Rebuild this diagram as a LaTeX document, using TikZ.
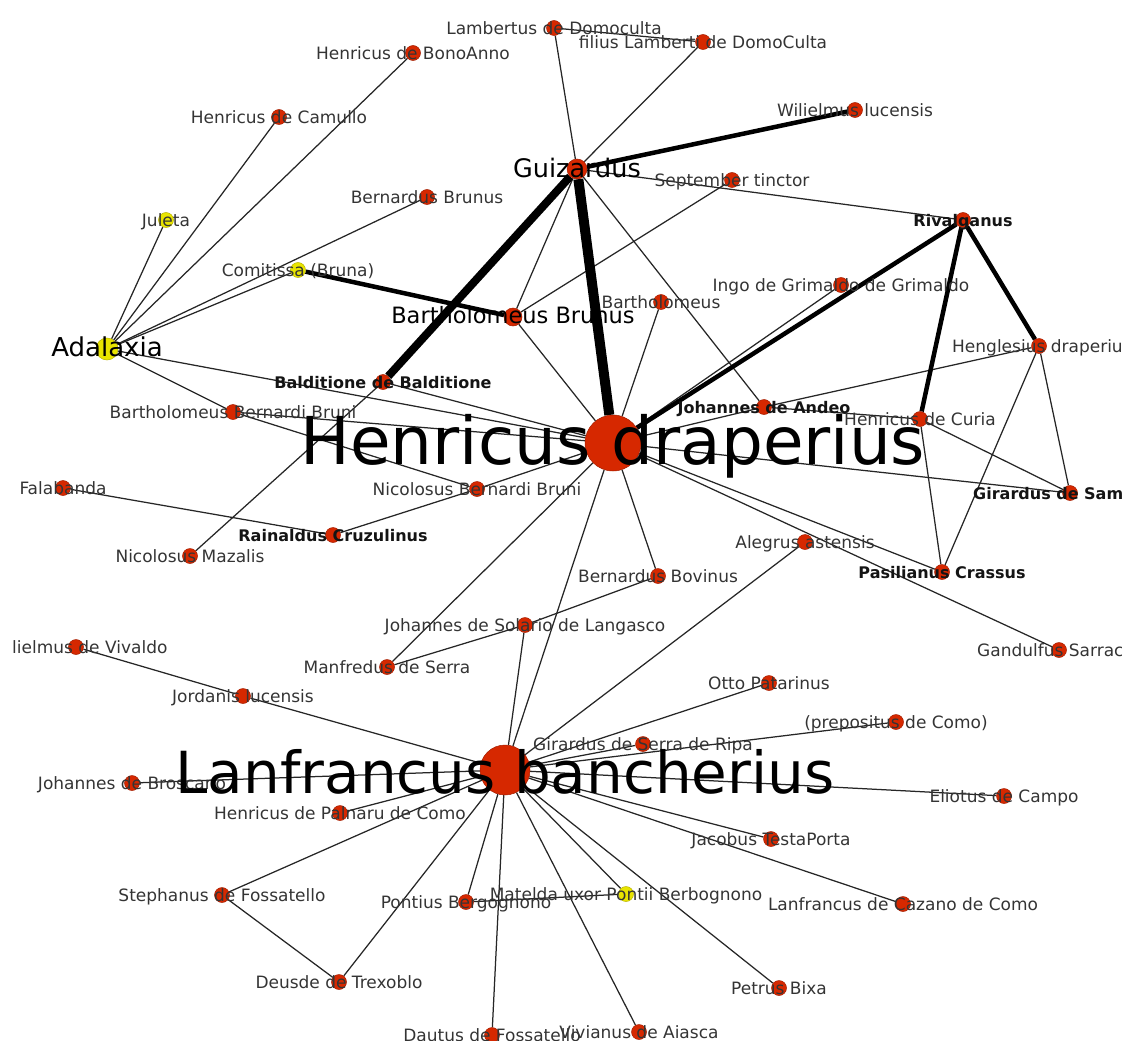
\documentclass[tikz,border=0pt]{standalone}
\usepackage{fontspec}
\setmainfont{DejaVu Sans}
\pgfdeclarelayer{background}
\pgfsetlayers{background,main}
\definecolor{nodered}{RGB}{214,40,0}
\definecolor{nodeline}{RGB}{165,30,0}
\definecolor{nodeyellow}{RGB}{232,228,0}
\definecolor{yellowline}{RGB}{185,180,0}
\definecolor{labgrey}{RGB}{52,52,52}
\definecolor{linkgrey}{RGB}{38,38,38}
\tikzset{person/.style={circle, fill=nodered, draw=nodeline, line width=.5pt, minimum size=15pt, inner sep=0pt},
  woman/.style={person, fill=nodeyellow, draw=yellowline},
  lab/.style={font=\fontsize{17}{17}\selectfont, text=labgrey, anchor=base, yshift=-6.2pt, inner sep=0pt},
  blab/.style={lab, font=\fontsize{16}{16}\selectfont\bfseries, text=black!92},
  biglab/.style={anchor=base, text=black, inner sep=0pt},
  link/.style={draw=linkgrey, line width=1.25pt},
  tie/.style={draw=black, line width=#1}}

\begin{document}
\begin{tikzpicture}[x=1pt, y=-1pt]
    \useasboundingbox (0,0) rectangle (1122,1041);
    % people
    \node [person, minimum size=56pt] (hd) at (613,443) {};
    \node [person, minimum size=50pt] (lb) at (505,770) {};
    \node [person, minimum size=20pt] (guiz) at (577,169) {};
    \node [person] (lamb) at (554,28) {};
    \node [person] (fil) at (703,42) {};
    \node [person] (bono) at (413,53) {};
    \node [person] (cam) at (279,117) {};
    \node [person] (wil) at (855,110) {};
    \node [person] (bern) at (427,197) {};
    \node [person] (sept) at (732,180) {};
    \node [person] (riv) at (963,220) {};
    \node [woman] (jul) at (166,220) {};
    \node [woman] (com) at (298,270) {};
    \node [woman, minimum size=22pt] (ada) at (107,349) {};
    \node [person, minimum size=18pt] (bbr) at (513,317) {};
    \node [person] (bart) at (661,302) {};
    \node [person] (ingo) at (841,285) {};
    \node [person] (hengl) at (1039,346) {};
    \node [person] (bald) at (383,382) {};
    \node [person] (bbb) at (233,412) {};
    \node [person] (andeo) at (764,407) {};
    \node [person] (curia) at (920,419) {};
    \node [person] (nbb) at (477,489) {};
    \node [person] (fala) at (63,488) {};
    \node [person] (gsam) at (1070,493) {};
    \node [person] (rain) at (333,535) {};
    \node [person] (maz) at (190,556) {};
    \node [person] (aleg) at (805,542) {};
    \node [person] (pas) at (942,572) {};
    \node [person] (bov) at (658,576) {};
    \node [person] (sol) at (525,625) {};
    \node [person] (manf) at (387,667) {};
    \node [person] (vival) at (76,647) {};
    \node [person] (gand) at (1059,650) {};
    \node [person] (jord) at (243,696) {};
    \node [person] (otto) at (769,683) {};
    \node [person] (prep) at (896,722) {};
    \node [person] (gsr) at (643,744) {};
    \node [person] (bros) at (132,783) {};
    \node [person] (eli) at (1004,796) {};
    \node [person] (paln) at (340,813) {};
    \node [person] (jac) at (771,839) {};
    \node [person] (steph) at (222,895) {};
    \node [person] (pont) at (466,902) {};
    \node [woman] (mat) at (626,894) {};
    \node [person] (caz) at (903,904) {};
    \node [person] (deus) at (339,982) {};
    \node [person] (petr) at (779,988) {};
    \node [person] (daut) at (492,1035) {};
    \node [person] (vivi) at (639,1032) {};

    % ties
    \begin{pgfonlayer}{background}
    \path[link] (guiz) edge (lamb) edge (fil) edge (riv) edge (bbr) edge (andeo)
        (lamb) edge (fil)
        (sept) edge (bbr)
        (hd) edge (ingo) edge (bart) edge (bbr) edge (andeo) edge (gsam) edge (pas)
            edge (gand) edge (bov) edge (lb) edge (manf) edge (nbb) edge (bbb)
            edge (ada) edge (bald)
        (andeo) edge (curia) edge (hengl)
        (hengl) edge (gsam) edge (pas)
        (curia) edge (gsam) edge (pas)
        (rain) edge (nbb) edge (fala)
        (bbb) edge (nbb) edge (ada)
        (maz) edge (bald)
        (ada) edge (jul) edge (cam) edge (bono) edge (bern) edge (com)
        (sol) edge (manf) edge (bov) edge (lb)
        (lb) edge (aleg) edge (otto) edge (prep) edge (gsr) edge (eli) edge (jac)
            edge (caz) edge (petr) edge (vivi) edge (mat) edge (daut) edge (pont)
            edge (deus) edge (steph) edge (paln) edge (bros) edge (jord)
        (jord) edge (vival)
        (pont) edge (mat)
        (steph) edge (deus);
    \path (guiz) edge [tie=10pt] (hd)
            edge [tie=8pt] (bald)
            edge [tie=4.5pt] (wil)
        (riv) edge [tie=4.5pt] (hd)
            edge [tie=4.5pt] (curia)
            edge [tie=4.5pt] (hengl)
        (com) edge [tie=4.5pt] (bbr);
    \end{pgfonlayer}

    % names
    \node [lab] (lamb-l) at (lamb) {Lambertus de Domoculta};
    \node [lab] (fil-l) at (fil) {filius Lamberti de DomoCulta};
    \node [lab] (bono-l) at (bono) {Henricus de BonoAnno};
    \node [lab] (cam-l) at (cam) {Henricus de Camullo};
    \node [lab] (wil-l) at (wil) {Wilielmus lucensis};
    \node [lab] (bern-l) at (bern) {Bernardus Brunus};
    \node [lab] (sept-l) at (sept) {September tinctor};
    \node [blab] (riv-l) at (riv) {Rivalganus};
    \node [lab] (jul-l) at (jul) {Juleta};
    \node [lab] (com-l) at (com) {Comitissa (Bruna)};
    \node [lab] (bart-l) at (bart) {Bartholomeus};
    \node [lab] (ingo-l) at (ingo) {Ingo de Grimaldo de Grimaldo};
    \node [lab, anchor=base west] (hengl-l) at (952,346) {Henglesius draperiu};
    \node [blab] (bald-l) at (bald) {Balditione de Balditione};
    \node [lab] (bbb-l) at (bbb) {Bartholomeus Bernardi Bruni};
    \node [blab] (andeo-l) at (andeo) {Johannes de Andeo};
    \node [lab] (curia-l) at (curia) {Henricus de Curia};
    \node [lab] (nbb-l) at (nbb) {Nicolosus Bernardi Bruni};
    \node [lab] (fala-l) at (fala) {Falabanda};
    \node [blab, anchor=base west] (gsam-l) at (973,493) {Girardus de Sam};
    \node [blab] (rain-l) at (rain) {Rainaldus Cruzulinus};
    \node [lab] (maz-l) at (maz) {Nicolosus Mazalis};
    \node [lab] (aleg-l) at (aleg) {Alegrus astensis};
    \node [blab] (pas-l) at (pas) {Pasilianus Crassus};
    \node [lab] (bov-l) at (bov) {Bernardus Bovinus};
    \node [lab] (sol-l) at (sol) {Johannes de Solario de Langasco};
    \node [lab] (manf-l) at (manf) {Manfredus de Serra};
    \node [lab, anchor=base west] (vival-l) at (12,647) {lielmus de Vivaldo};
    \node [lab, anchor=base west] (gand-l) at (977,650) {Gandulfus Sarrac};
    \node [lab] (jord-l) at (jord) {Jordanis lucensis};
    \node [lab] (otto-l) at (otto) {Otto Patarinus};
    \node [lab] (prep-l) at (prep) {(prepositus de Como)};
    \node [lab] (gsr-l) at (gsr) {Girardus de Serra de Ripa};
    \node [lab] (bros-l) at (bros) {Johannes de Broscano};
    \node [lab] (eli-l) at (eli) {Eliotus de Campo};
    \node [lab] (paln-l) at (paln) {Henricus de Palnaru de Como};
    \node [lab] (jac-l) at (jac) {Jacobus TestaPorta};
    \node [lab] (steph-l) at (steph) {Stephanus de Fossatello};
    \node [lab] (pont-l) at (pont) {Pontius Bergognono};
    \node [lab] (mat-l) at (mat) {Matelda uxor Pontii Berbognono};
    \node [lab] (caz-l) at (caz) {Lanfrancus de Cazano de Como};
    \node [lab] (deus-l) at (deus) {Deusde de Trexoblo};
    \node [lab] (petr-l) at (petr) {Petrus Bixa};
    \node [lab] (daut-l) at (daut) {Dautus de Fossatello};
    \node [lab] (vivi-l) at (vivi) {Vivianus de Aiasca};
    \node [biglab, font=\fontsize{22.5}{22.5}\selectfont, yshift=-6pt] (bbr-l) at (bbr) {Bartholomeus Brunus};
    \node [biglab, font=\fontsize{25.5}{25.5}\selectfont, yshift=-8pt] (guiz-l) at (guiz) {Guizardus};
    \node [biglab, font=\fontsize{26}{26}\selectfont, yshift=-7pt] (ada-l) at (ada) {Adalaxia};
    \node [biglab, font=\fontsize{66}{66}\selectfont, yshift=-21pt] (hd-l) at (hd) {Henricus draperius};
    \node [biglab, font=\fontsize{58}{58}\selectfont, yshift=-23pt] (lb-l) at (lb) {Lanfrancus bancherius};
\end{tikzpicture}
\end{document}
